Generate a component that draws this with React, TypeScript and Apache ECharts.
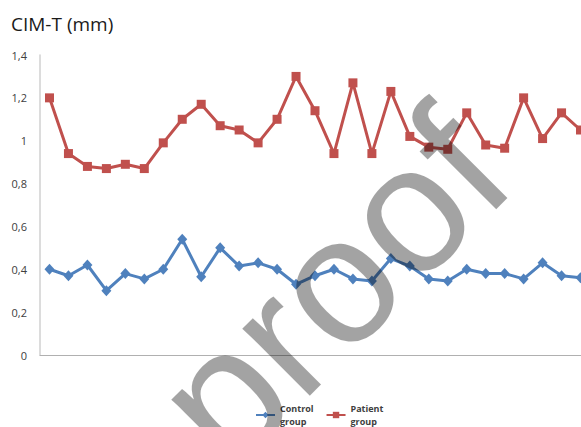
import React, { useEffect, useRef } from "react";
import * as echarts from "echarts";

const categories = Array.from({ length: 29 }, (_, i) => String(i + 1));
const controlGroup = [0.40, 0.37, 0.42, 0.30, 0.38, 0.355, 0.40, 0.54, 0.365, 0.50, 0.415, 0.43, 0.40, 0.33, 0.37, 0.40, 0.355, 0.345, 0.45, 0.415, 0.355, 0.345, 0.40, 0.38, 0.38, 0.355, 0.43, 0.37, 0.36];
const patientGroup = [1.20, 0.94, 0.88, 0.87, 0.89, 0.87, 0.99, 1.10, 1.17, 1.07, 1.05, 0.99, 1.10, 1.30, 1.14, 0.94, 1.27, 0.94, 1.23, 1.02, 0.97, 0.96, 1.13, 0.98, 0.965, 1.20, 1.01, 1.13, 1.05];
const seriesNames = ["Control group", "Patient group"];
const titleText = "CIM-T (mm)";
const watermarkText = "proof";

export default function App() {
  const ref = useRef<HTMLDivElement>(null);
  useEffect(() => {
    if (!ref.current) return;
    const chart = echarts.init(ref.current, null, { renderer: "svg" });
    chart.setOption({
      animation: false,
      backgroundColor: "#ffffff",
      title: {
        text: titleText,
        left: 11,
        top: 14,
        padding: 0,
        textStyle: { fontFamily: "Open Sans", fontSize: 19, fontWeight: "normal", color: "#1a1a1a" },
      },
      legend: {
        left: 255,
        top: 404,
        padding: 0,
        itemWidth: 19,
        itemHeight: 8,
        itemGap: 12,
        data: seriesNames,
        formatter: (n: string) => n.replace(" ", "\n"),
        textStyle: { fontFamily: "Open Sans", fontSize: 9, fontWeight: "bold", color: "#404040", lineHeight: 13, height: 13 },
      },
      grid: { left: 40, top: 55, bottom: 72, width: 550, containLabel: false, outerBoundsMode: "none" },
      xAxis: {
        type: "category",
        data: categories,
        boundaryGap: true,
        axisLine: { lineStyle: { color: "#b0b0b0", width: 1 } },
        axisTick: { show: false },
        axisLabel: { show: false },
        splitLine: { show: false },
      },
      yAxis: {
        type: "value",
        min: 0,
        max: 1.4,
        interval: 0.2,
        axisLine: { show: true, lineStyle: { color: "#d0d0d0", width: 1.5 } },
        axisTick: { show: false },
        splitLine: { show: false },
        axisLabel: {
          margin: 13,
          fontFamily: "Open Sans",
          fontSize: 11,
          color: "#404040",
          formatter: (v: number) => String(Math.round(v * 10) / 10).replace(".", ","),
        },
      },
      series: [
        {
          name: seriesNames[0],
          type: "line",
          data: controlGroup,
          symbol: "diamond",
          symbolSize: [10, 11],
          lineStyle: { color: "#4f81bd", width: 3 },
          itemStyle: { color: "#4f81bd" },
        },
        {
          name: seriesNames[1],
          type: "line",
          data: patientGroup,
          symbol: "rect",
          symbolSize: 9,
          lineStyle: { color: "#c0504d", width: 3 },
          itemStyle: { color: "#c0504d" },
        },
      ],
      graphic: [
        {
          type: "text",
          x: 186,
          y: 431,
          rotation: Math.PI / 4,
          z: 100,
          silent: true,
          style: {
            text: watermarkText,
            fontFamily: "Liberation Sans",
            fontSize: 180,
            fill: "rgba(0,0,0,0.36)",
            textAlign: "left",
            textVerticalAlign: "middle",
          },
        },
      ],
    });
    return () => chart.dispose();
  }, []);
  return <div ref={ref} style={{ width: 581, height: 427, position: "absolute", left: 0, top: 0 }} />;
}
